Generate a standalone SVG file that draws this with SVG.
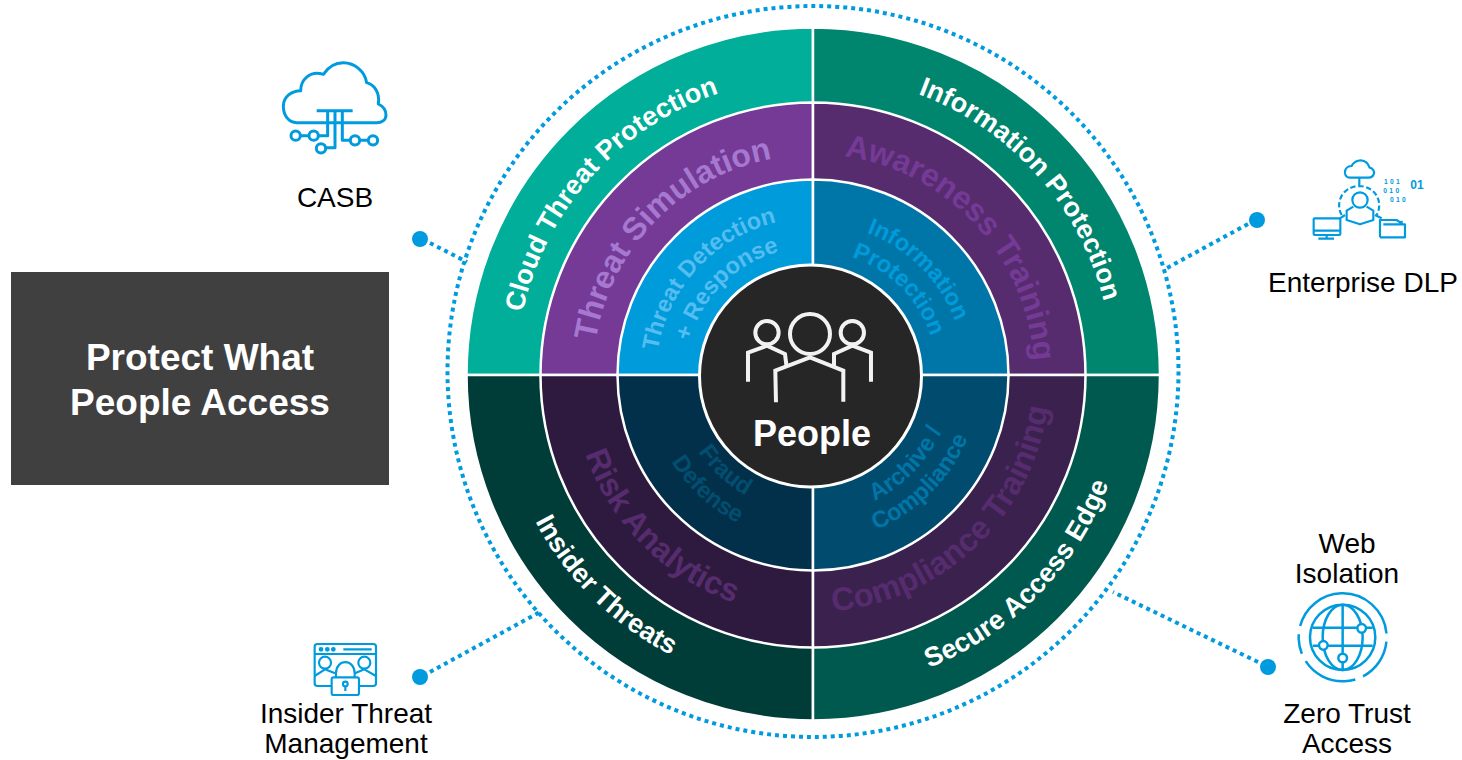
<svg xmlns="http://www.w3.org/2000/svg" width="1462" height="760" viewBox="0 0 1462 760">
<style>
text{font-family:"Liberation Sans",Arial,sans-serif}
.w{stroke:#fff;stroke-width:2.5}
.lbl{font-size:28px;fill:#000;text-anchor:middle}
.b{font-weight:700;text-anchor:middle}
.o{font-size:27px;fill:#fff}
.m{font-size:32px}
.i{font-size:23.5px}
.ic{fill:none;stroke:#009bde;stroke-width:9;stroke-linejoin:round}
.ic2{fill:none;stroke:#009bde;stroke-width:6.5;stroke-linejoin:round}
.pp{fill:none;stroke:#f2f2f2;stroke-width:12}
.dot{fill:none;stroke:#009bde;stroke-width:4;stroke-dasharray:4 4}
.pin{fill:#009bde}
.bin{font-size:20px;font-weight:700;fill:#009bde;stroke:none;letter-spacing:7px}
</style>
<defs>
<path id="o1" d="M516,375A297,297 0 0 1 813,78"/>
<path id="o2" d="M813,75A300,300 0 0 1 1113,375"/>
<path id="o3" d="M499,375A314,314 0 0 0 813,689"/>
<path id="o4" d="M813,690A315,315 0 0 0 1128,375"/>
<path id="m1" d="M593,375A220,220 0 0 1 813,155"/>
<path id="m2" d="M813,154A221,221 0 0 1 1034,375"/>
<path id="m3" d="M572,375A241,241 0 0 0 813,616"/>
<path id="m4" d="M813,612A237,237 0 0 0 1050,375"/>
<path id="i1a" d="M656,375A157,157 0 0 1 813,218"/>
<path id="i1b" d="M685,375A128,128 0 0 1 813,247"/>
<path id="i2a" d="M813,223A152,152 0 0 1 965,375"/>
<path id="i2b" d="M813,251A124,124 0 0 1 937,375"/>
<path id="i3a" d="M675,375A138,138 0 0 0 813,513"/>
<path id="i3b" d="M647,375A166,166 0 0 0 813,541"/>
<path id="i4a" d="M813,515A140,140 0 0 0 953,375"/>
<path id="i4b" d="M813,542A167,167 0 0 0 980,375"/>
</defs>

<g id="connectors">
<circle class="dot" cx="813" cy="371.5" r="365.5"/>
<path class="dot" d="M430,243L467,262"/>
<path class="dot" d="M1248,224L1167,268"/>
<path class="dot" d="M1258,662L1113,592"/>
<path class="dot" d="M430,672L540,612"/>
<circle class="pin" cx="420" cy="239" r="8"/>
<circle class="pin" cx="1257" cy="220" r="8"/>
<circle class="pin" cx="1268" cy="667" r="8"/>
<circle class="pin" cx="420" cy="677" r="8"/>
</g>

<g id="ring-outer">
<g id="cloud-threat-protection"><path class="w" fill="#00ae99" d="M813,375H466.5A346.5,347.5 0 0 1 813,27.5Z"/><text class="b o"><textPath href="#o1" startOffset="46.5%">Cloud Threat Protection</textPath></text></g>
<g id="information-protection"><path class="w" fill="#00856f" d="M813,375V27.5A347,347.5 0 0 1 1160,375Z"/><text class="b o"><textPath href="#o2" startOffset="53.5%">Information Protection</textPath></text></g>
<g id="insider-threats"><path class="w" fill="#003d38" d="M813,375H466.5A346.5,345.5 0 0 0 813,720.5Z"/><text class="b o"><textPath href="#o3" startOffset="50.5%">Insider Threats</textPath></text></g>
<g id="secure-access-edge"><path class="w" fill="#00594e" d="M813,375V720.5A347,345.5 0 0 0 1160,375Z"/><text class="b o"><textPath href="#o4" startOffset="50.8%">Secure Access Edge</textPath></text></g>
</g>
<g id="ring-middle">
<g id="threat-simulation"><path class="w" fill="#743a96" d="M813,375H540.5A272.5,272.5 0 0 1 813,102.5Z"/><text class="b m" fill="#a678d0"><textPath href="#m1" startOffset="49%">Threat Simulation</textPath></text></g>
<g id="awareness-training"><path class="w" fill="#562c6e" d="M813,375V102.5A272.5,272.5 0 0 1 1085.5,375Z"/><text class="b m" fill="#743a96"><textPath href="#m2" startOffset="52.5%">Awareness Training</textPath></text></g>
<g id="risk-analytics"><path class="w" fill="#2f1a3f" d="M813,375H540.5A272.5,272.5 0 0 0 813,647.5Z"/><text class="b m" fill="#562c6e"><textPath href="#m3" startOffset="50%">Risk Analytics</textPath></text></g>
<g id="compliance-training"><path class="w" fill="#3b214e" d="M813,375V647.5A272.5,272.5 0 0 0 1085.5,375Z"/><text class="b m" fill="#562c6e" style="font-size:32.5px"><textPath href="#m4" startOffset="48.3%">Compliance Training</textPath></text></g>
</g>
<g id="ring-inner">
<g id="threat-detection"><path class="w" fill="#009bdb" d="M813,375H617.5A195.5,195.5 0 0 1 813,179.5Z"/><text class="b i" fill="#55bdf0"><textPath href="#i1a" startOffset="47.5%">Threat Detection</textPath></text><text class="b i" fill="#55bdf0"><textPath href="#i1b" startOffset="50%">+ Response</textPath></text></g>
<g id="information-protection-inner"><path class="w" fill="#0076a8" d="M813,375V179.5A195.5,195.5 0 0 1 1008.5,375Z"/><text class="b i" fill="#009bdb"><textPath href="#i2a" startOffset="50%">Information</textPath></text><text class="b i" fill="#009bdb"><textPath href="#i2b" startOffset="50%">Protection</textPath></text></g>
<g id="fraud-defense"><path class="w" fill="#02304a" d="M813,375H617.5A195.5,195.5 0 0 0 813,570.5Z"/><text class="b i" fill="#024e70"><textPath href="#i3a" startOffset="52.5%">Fraud</textPath></text><text class="b i" fill="#024e70"><textPath href="#i3b" startOffset="52.5%">Defense</textPath></text></g>
<g id="archive-compliance"><path class="w" fill="#004b6e" d="M813,375V570.5A195.5,195.5 0 0 0 1008.5,375Z"/><text class="b i" fill="#0076a8"><textPath href="#i4a" startOffset="51.5%">Archive /</textPath></text><text class="b i" fill="#0076a8"><textPath href="#i4b" startOffset="50%">Compliance</textPath></text></g>
</g>

<g id="people">
<circle cx="810.5" cy="376" r="111" fill="#262626" stroke="#fff" stroke-width="3"/>
<g transform="translate(690,260) scale(.3333)" class="pp">
<circle cx="360" cy="222" r="60"/>
<path d="M258,427L256,332L360,292L460,332V425"/>
<circle cx="231" cy="218" r="35"/>
<path d="M174,365V278L231,257L285,282L290,322"/>
<circle cx="487" cy="218" r="35"/>
<path d="M543,365V278L487,257L432,282V318"/>
</g>
<text class="b" x="812" y="446" font-size="36" fill="#fff">People</text>
</g>

<g id="title">
<rect x="11" y="272" width="378" height="213" fill="#404040"/>
<text class="b" x="200" y="370" font-size="37" fill="#fff">Protect What</text>
<text class="b" x="200" y="415" font-size="37" fill="#fff">People Access</text>
</g>

<g id="casb">
<g transform="translate(260,40) scale(.3333)" class="ic">
<path d="M340,248H110C85,248 70,225 70,198C70,170 95,152 122,152C122,120 150,90 190,103C205,80 225,68 250,68C285,68 315,95 320,128C345,135 360,160 355,192C372,200 378,215 378,225C378,240 365,248 350,248H247M203,248H110"/>
<path d="M170,212H278M203,212V287H175M225,212V323H196M247,212V301H272"/>
<circle cx="107" cy="287" r="14"/><circle cx="161" cy="287" r="14"/><circle cx="183" cy="325" r="14"/><circle cx="285" cy="301" r="14"/><circle cx="339" cy="301" r="14"/>
<path d="M121,287H147M299,301H325"/>
</g>
<text class="lbl" x="335" y="207">CASB</text>
</g>

<g id="enterprise-dlp">
<g transform="translate(1240,140) scale(.3333)" class="ic2">
<path d="M330,113C315,113 313,98 316,90C320,80 330,78 335,78C342,62 365,55 380,68C385,75 388,80 388,82C400,85 403,95 402,100C400,110 392,113 385,113Z"/>
<path d="M358,113V135"/>
<path d="M305,225C285,190 305,140 358,138C410,140 430,190 410,225" stroke-dasharray="16 8"/>
<circle cx="360" cy="180" r="23"/>
<path d="M340,200L320,212V240L360,253L400,240V212L380,200"/>
<rect x="221" y="235" width="80" height="50" rx="3"/>
<path d="M221,272H301M260,285V295M235,296H282"/>
<path d="M300,235L315,225M405,225L425,235"/>
<path d="M420,292V240H470L485,250V242M420,292H495V253H430"/>
<text class="bin" x="432" y="133">101</text>
<text class="bin" x="430" y="158">010</text>
<text class="bin" x="450" y="185">010</text>
<text x="511" y="146" font-size="36" font-weight="700" style="fill:#009bde;stroke:none">01</text>
</g>
<text class="lbl" x="1363" y="292">Enterprise DLP</text>
</g>

<g id="web-isolation-ztna">
<g transform="translate(1240,580) scale(.3333)" class="ic2" style="stroke-width:7.5">
<circle cx="308" cy="172" r="98"/>
<ellipse cx="308" cy="172" rx="60" ry="98"/>
<path d="M308,74V270M218,143H398M218,197H398"/>
<circle cx="365" cy="145" r="13" fill="#fff"/><circle cx="250" cy="196" r="13" fill="#fff"/><circle cx="308" cy="234" r="13" fill="#fff"/>
<circle cx="308" cy="172" r="132" stroke-dasharray="200 25 130 25 170 25 60 25" transform="rotate(-92 308 172)"/>
</g>
<text class="lbl" x="1347" y="553">Web</text>
<text class="lbl" x="1347" y="583">Isolation</text>
<text class="lbl" x="1347" y="723">Zero Trust</text>
<text class="lbl" x="1347" y="753">Access</text>
</g>

<g id="insider-threat-management">
<g transform="translate(280,620) scale(.3333)" class="ic2">
<rect x="104" y="72" width="184" height="126" rx="8"/>
<path d="M104,102H288M190,88H275"/>
<circle cx="123" cy="88" r="4" style="fill:#009bde"/><circle cx="142" cy="88" r="4" style="fill:#009bde"/><circle cx="160" cy="88" r="4" style="fill:#009bde"/>
<circle cx="135" cy="128" r="18"/><circle cx="253" cy="128" r="18"/>
<path d="M104,168L135,148L165,160M288,168L253,148L225,160"/>
<path d="M168,172V160C168,115 224,115 224,160V172"/>
<rect x="155" y="172" width="82" height="53" rx="6" fill="#fff"/>
<circle cx="196" cy="192" r="7"/><path d="M196,199V213"/>
</g>
<text class="lbl" x="346" y="723">Insider Threat</text>
<text class="lbl" x="346" y="753">Management</text>
</g>
</svg>
